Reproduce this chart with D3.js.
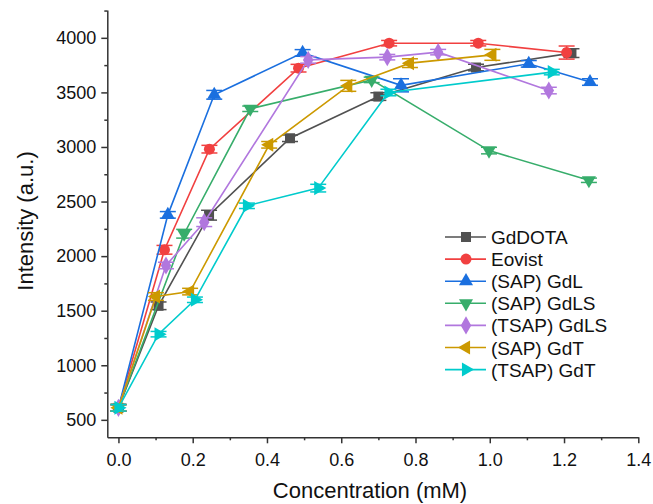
<!DOCTYPE html>
<html>
<head>
<meta charset="utf-8">
<script src="https://cdn.jsdelivr.net/npm/d3@7"></script>
<style>
  body { margin: 0; background: #fff; }
  text { font-family: Arial, "Liberation Sans", sans-serif; fill: #111; }
</style>
</head>
<body>
<div id="chart"></div>
<script>
// data (concentration in mM, intensity in a.u.)
var seriesNames = ["GdDOTA", "Eovist", "(SAP) GdL", "(SAP) GdLS", "(TSAP) GdLS", "(SAP) GdT", "(TSAP) GdT"];
var colors = ["#515151", "#F14040", "#1A6FDF", "#37AD6B", "#B177DE", "#CC9900", "#00CBCC"];

var gddotaX = [0, 0.108, 0.244, 0.462, 0.700, 0.963, 1.220];
var gddotaY = [610, 1545, 2375, 3080, 3462, 3728, 3860];
var gddotaErr = [30, 35, 45, 30, 35, 30, 40];

var eovistX = [0, 0.124, 0.245, 0.485, 0.729, 0.969, 1.207];
var eovistY = [610, 2058, 2980, 3722, 3951, 3951, 3865];
var eovistErr = [30, 40, 35, 35, 25, 25, 60];

var sapGdlX = [0, 0.133, 0.258, 0.496, 0.761, 1.105, 1.270];
var sapGdlY = [610, 2378, 3478, 3862, 3565, 3762, 3595];
var sapGdlErr = [30, 30, 40, 30, 60, 30, 30];

var sapGdlsX = [0, 0.177, 0.355, 0.682, 0.998, 1.267];
var sapGdlsY = [610, 2205, 3350, 3615, 2967, 2695];
var sapGdlsErr = [30, 40, 25, 25, 30, 20];

var tsapGdlsX = [0, 0.128, 0.231, 0.511, 0.724, 0.861, 1.159];
var tsapGdlsY = [610, 1914, 2311, 3798, 3823, 3869, 3517];
var tsapGdlsErr = [30, 30, 40, 30, 25, 25, 30];

var sapGdtX = [0, 0.101, 0.193, 0.406, 0.619, 0.785, 1.007];
var sapGdtY = [610, 1630, 1675, 3020, 3560, 3768, 3844];
var sapGdtErr = [30, 35, 30, 30, 50, 40, 50];

var tsapGdtX = [0, 0.108, 0.206, 0.346, 0.538, 0.727, 1.167];
var tsapGdtY = [610, 1285, 1600, 2461, 2623, 3499, 3686];
var tsapGdtErr = [30, 25, 25, 25, 35, 30, 25];

var xTicks = [0, 0.2, 0.4, 0.6, 0.8, 1.0, 1.2, 1.4];
var yTicks = [500, 1000, 1500, 2000, 2500, 3000, 3500, 4000];

var allX = [gddotaX, eovistX, sapGdlX, sapGdlsX, tsapGdlsX, sapGdtX, tsapGdtX];
var allY = [gddotaY, eovistY, sapGdlY, sapGdlsY, tsapGdlsY, sapGdtY, tsapGdtY];
var allErr = [gddotaErr, eovistErr, sapGdlErr, sapGdlsErr, tsapGdlsErr, sapGdtErr, tsapGdtErr];

// marker shape + rotation per series
var symbols = [
  {type: d3.symbolSquare, size: 100, rot: 0},
  {type: d3.symbolCircle, size: 95, rot: 0},
  {type: d3.symbolTriangle, size: 85, rot: 0},
  {type: d3.symbolTriangle, size: 85, rot: 180},
  {type: d3.symbolDiamond, size: 95, rot: 0},
  {type: d3.symbolTriangle, size: 85, rot: -90},
  {type: d3.symbolTriangle, size: 85, rot: 90}
];

var width = 653, height = 504;
var svg = d3.select("#chart").append("svg")
    .attr("width", width)
    .attr("height", height);

var x = d3.scaleLinear().domain([-0.03, 1.4]).range([107.3, 638.3]);
var y = d3.scaleLinear().domain([340, 4255]).range([437.3, 10]);

// minor ticks first, then the main axes on top
var xMinor = d3.range(0.1, 1.4, 0.2);
var yMinor = d3.range(750, 4300, 500);

svg.append("g")
    .attr("transform", "translate(0,437.3)")
    .call(d3.axisBottom(x).tickValues(xMinor).tickSize(3).tickFormat(""))
    .call(function(g) { g.select(".domain").remove(); });
svg.append("g")
    .attr("transform", "translate(107.3,0)")
    .call(d3.axisLeft(y).tickValues(yMinor).tickSize(3).tickFormat(""))
    .call(function(g) { g.select(".domain").remove(); });

var xAxis = svg.append("g")
    .attr("transform", "translate(0,437.3)")
    .call(d3.axisBottom(x).tickValues(xTicks).tickSize(6).tickSizeOuter(0).tickPadding(10)
      .tickFormat(d3.format(".1f")));
var yAxis = svg.append("g")
    .attr("transform", "translate(107.3,0)")
    .call(d3.axisLeft(y).tickValues(yTicks).tickSize(6).tickSizeOuter(0).tickPadding(5)
      .tickFormat(d3.format("d")));

svg.selectAll(".tick line, .domain").attr("stroke", "#333").attr("stroke-width", 1.5);
xAxis.selectAll("text").style("font-size", "18px").attr("fill", "#111");
yAxis.selectAll("text").style("font-size", "18px").attr("fill", "#111");

// axis titles
svg.append("text")
    .attr("x", 370).attr("y", 498)
    .attr("text-anchor", "middle")
    .style("font-size", "22px")
    .text("Concentration (mM)");
svg.append("text")
    .attr("transform", "translate(33,221)rotate(-90)")
    .attr("text-anchor", "middle")
    .style("font-size", "22px")
    .text("Intensity (a.u.)");

var line = d3.line().x(function(d) { return x(d[0]); }).y(function(d) { return y(d[1]); });

for (var s = 0; s < seriesNames.length; s++) {
  var pts = allX[s].map(function(v, i) { return [v, allY[s][i], allErr[s][i]]; });
  var g = svg.append("g");
  var col = colors[s];

  g.append("path")
      .datum(pts)
      .attr("d", line)
      .attr("fill", "none")
      .attr("stroke", col)
      .attr("stroke-width", 1.6);

  // error bars with caps
  var eb = g.selectAll(".err").data(pts).enter().append("g");
  eb.append("line")
      .attr("x1", function(d) { return x(d[0]); })
      .attr("x2", function(d) { return x(d[0]); })
      .attr("y1", function(d) { return y(d[1] - d[2]); })
      .attr("y2", function(d) { return y(d[1] + d[2]); })
      .attr("stroke", col).attr("stroke-width", 1.5);
  [-1, 1].forEach(function(sign) {
    eb.append("line")
        .attr("x1", function(d) { return x(d[0]) - 8; })
        .attr("x2", function(d) { return x(d[0]) + 8; })
        .attr("y1", function(d) { return y(d[1] + sign * d[2]); })
        .attr("y2", function(d) { return y(d[1] + sign * d[2]); })
        .attr("stroke", col).attr("stroke-width", 1.5);
  });

  var sym = d3.symbol().type(symbols[s].type).size(symbols[s].size);
  g.selectAll(".mark").data(pts).enter().append("path")
      .attr("d", sym)
      .attr("transform", function(d) {
        return "translate(" + [x(d[0]), y(d[1])] + ")rotate(" + symbols[s].rot + ")";
      })
      .attr("fill", col);
}

// legend
var legend = svg.append("g").attr("transform", "translate(445,237)");
seriesNames.forEach(function(name, i) {
  var row = legend.append("g").attr("transform", "translate(0," + (i * 22.1) + ")");
  row.append("line")
      .attr("x1", 0).attr("x2", 41).attr("y1", 0).attr("y2", 0)
      .attr("stroke", colors[i]).attr("stroke-width", 1.6);
  row.append("path")
      .attr("d", d3.symbol().type(symbols[i].type).size(symbols[i].size)())
      .attr("transform", "translate(21,0)rotate(" + symbols[i].rot + ")")
      .attr("fill", colors[i]);
  row.append("text")
      .attr("x", 46).attr("y", 7)
      .style("font-size", "19px")
      .text(name);
});
</script>
</body>
</html>
